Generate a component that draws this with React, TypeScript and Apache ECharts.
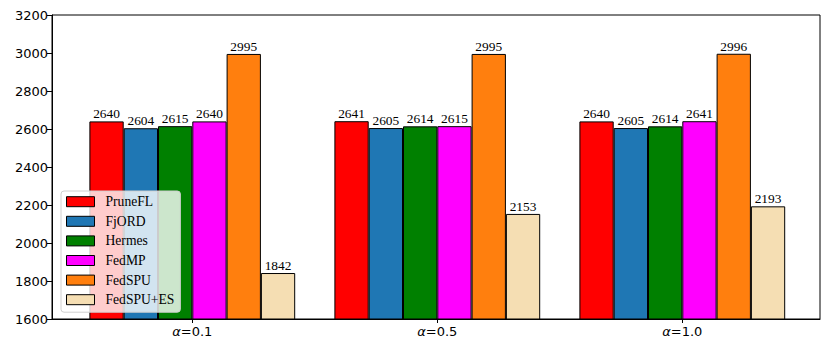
import React, { useEffect, useRef } from "react";
import * as echarts from "echarts";

const categories = ["0.1", "0.5", "1.0"];
const seriesNames = ["PruneFL", "FjORD", "Hermes", "FedMP", "FedSPU", "FedSPU+ES"];
const pruneFL = [2640, 2641, 2640];
const fjORD = [2604, 2605, 2605];
const hermes = [2615, 2614, 2614];
const fedMP = [2640, 2615, 2641];
const fedSPU = [2995, 2995, 2996];
const fedSPUES = [1842, 2153, 2193];
const seriesValues = [pruneFL, fjORD, hermes, fedMP, fedSPU, fedSPUES];
const colors = ["#ff0000", "#1f77b4", "#008000", "#ff00ff", "#ff7f0e", "#f5deb3"];
const yMin = 1600;
const yMax = 3200;
const yStep = 200;

export default function App() {
  const ref = useRef<HTMLDivElement>(null);
  useEffect(() => {
    if (!ref.current) return;
    const chart = echarts.init(ref.current, null, { renderer: "svg" });
    const sans = "DejaVu Sans";
    const serif = "Liberation Serif";
    chart.setOption({
      animation: false,
      backgroundColor: "#fff",
      grid: [
        { left: 69.8, width: 735, top: 15, bottom: 33, show: false },
        { left: 52, right: 10, top: 15, bottom: 33, show: true, borderColor: "#000", borderWidth: 1, backgroundColor: "transparent", z: 0 },
      ],
      xAxis: [
        {
          type: "category",
          gridIndex: 0,
          data: categories,
          axisLine: { show: false },
          axisTick: { show: true, alignWithLabel: true, length: 4, lineStyle: { color: "#000" } },
          axisLabel: {
            margin: 6,
            color: "#000",
            fontFamily: sans,
            fontSize: 13,
            formatter: (v: string) => "{a|α}{b|=" + v + "}",
            rich: {
              a: { fontFamily: sans, fontStyle: "italic", fontSize: 13, color: "#000" },
              b: { fontFamily: sans, fontSize: 13, color: "#000" },
            },
          },
          splitLine: { show: false },
        },
        {
          type: "value",
          gridIndex: 1,
          min: 0,
          max: 1,
          axisLine: { show: true, lineStyle: { color: "#000", width: 1 } },
          axisTick: { show: false },
          axisLabel: { show: false },
          splitLine: { show: false },
        },
      ],
      yAxis: [
        {
          type: "value",
          gridIndex: 0,
          min: yMin,
          max: yMax,
          interval: yStep,
          show: false,
          splitLine: { show: false },
        },
        {
          type: "value",
          gridIndex: 1,
          min: yMin,
          max: yMax,
          interval: yStep,
          axisLine: { show: true, lineStyle: { color: "#000", width: 1 } },
          axisTick: { show: true, length: 5, lineStyle: { color: "#000" } },
          axisLabel: { color: "#000", fontFamily: sans, fontSize: 13, margin: 4, formatter: (v: number) => String(v) },
          splitLine: { show: false },
        },
      ],
      legend: {
        orient: "vertical",
        left: 61,
        top: 191,
        data: seriesNames,
        itemWidth: 28,
        itemHeight: 10,
        itemGap: 5.6,
        padding: [3.7, 6, 5.5, 5],
        backgroundColor: "rgba(255,255,255,0.8)",
        borderColor: "#d0d0d0",
        borderWidth: 1,
        borderRadius: 3,
        icon: "rect",
        itemStyle: { borderColor: "#000", borderWidth: 1 },
        textStyle: { fontFamily: serif, fontSize: 13.6, lineHeight: 14, color: "#000", padding: [0, 0, 0, 6] },
        z: 10,
      },
      series: seriesNames.map((name, i) => ({
        name,
        type: "bar",
        xAxisIndex: 0,
        yAxisIndex: 0,
        data: seriesValues[i],
        barWidth: 34.3,
        barGap: "0%",
        itemStyle: { color: colors[i], borderColor: "#000", borderWidth: 1 },
        label: {
          show: true,
          position: "top",
          distance: 1,
          fontFamily: serif,
          fontSize: 13.4,
          color: "#000",
        },
        z: 2,
      })),
    });
    return () => chart.dispose();
  }, []);
  return <div ref={ref} style={{ width: 830, height: 352, position: "absolute", left: 0, top: 0 }} />;
}
